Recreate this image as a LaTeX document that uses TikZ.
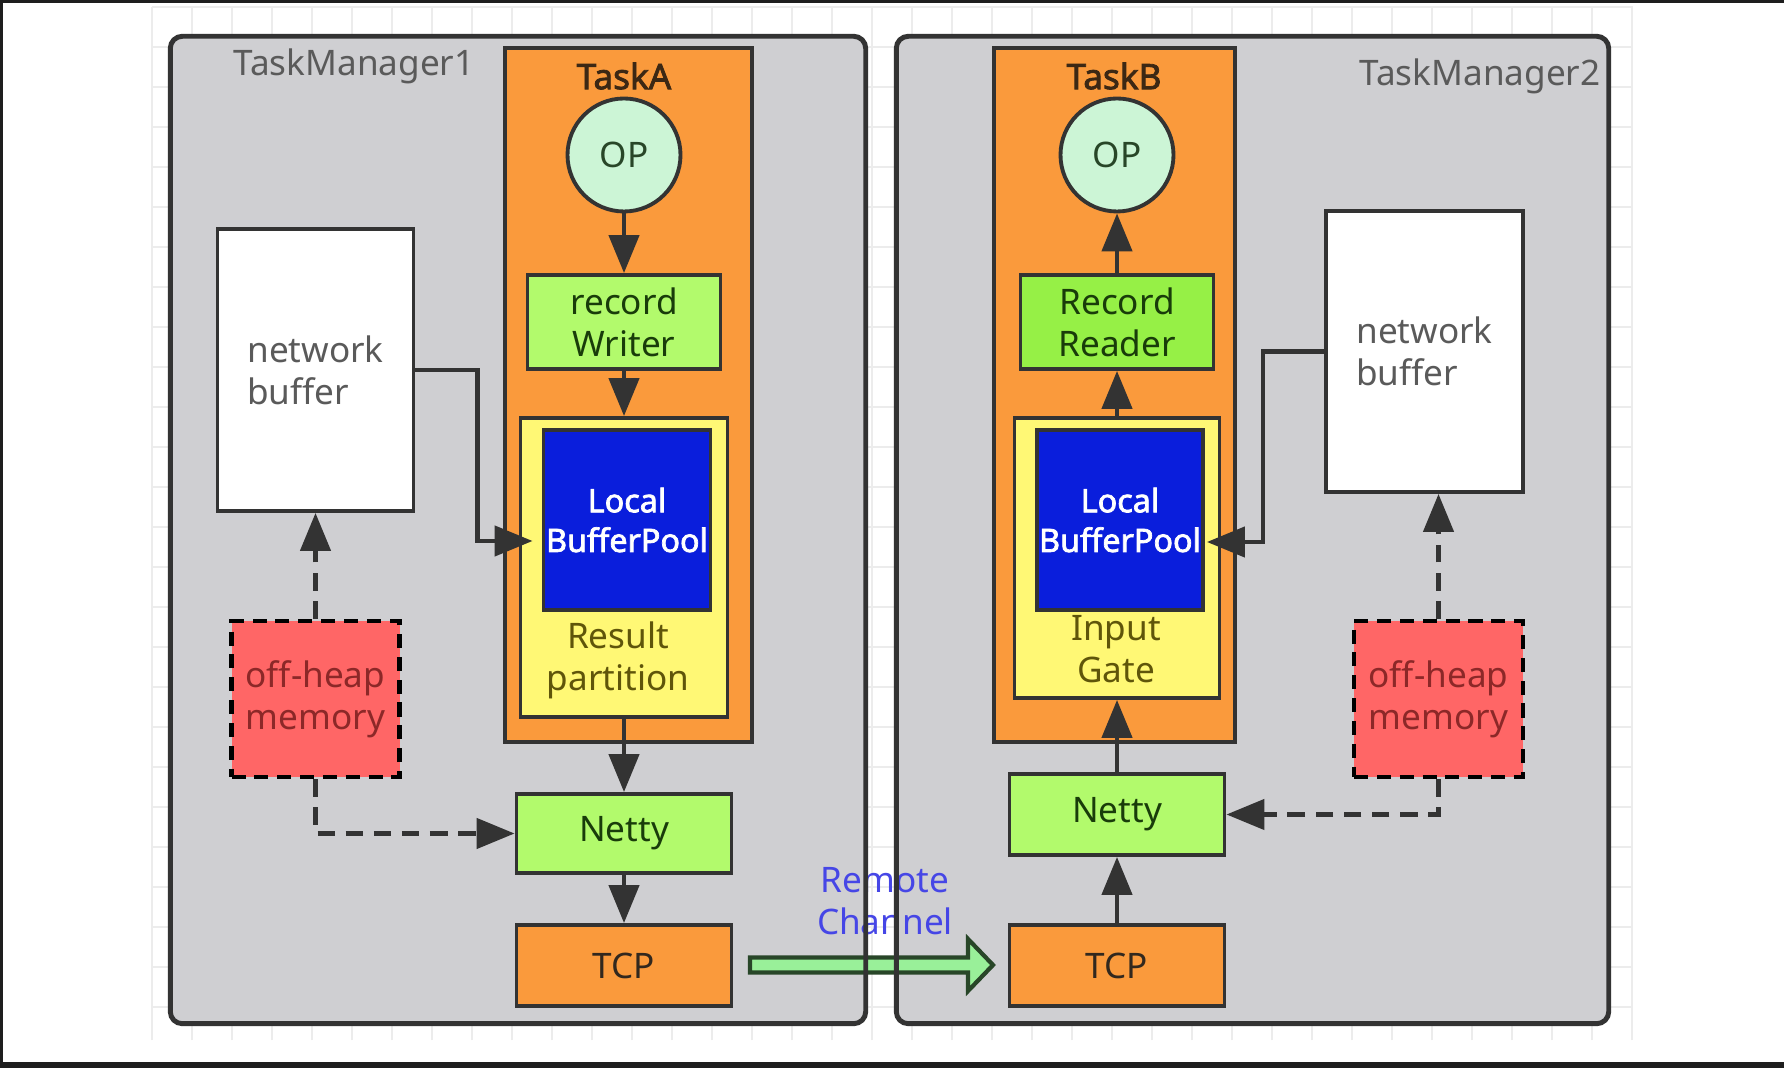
\documentclass[tikz,border=0pt]{standalone}
\usepackage{fontspec}
\setmainfont{Noto Sans}[AutoFakeBold=2.2]
\usetikzlibrary{arrows.meta}

\definecolor{tmgray}{RGB}{207,207,210}
\definecolor{taskorange}{RGB}{250,154,60}
\definecolor{opmint}{RGB}{204,245,214}
\definecolor{boxgreen}{RGB}{178,250,108}
\definecolor{readergreen}{RGB}{150,240,70}
\definecolor{partyellow}{RGB}{255,248,117}
\definecolor{poolblue}{RGB}{10,30,220}
\definecolor{heapred}{RGB}{255,102,102}
\definecolor{chgreen}{RGB}{153,240,153}
\definecolor{chedge}{RGB}{40,70,40}
\definecolor{edge}{RGB}{51,51,51}
\definecolor{gridline}{RGB}{236,236,236}
\definecolor{labelgray}{RGB}{90,90,90}
\definecolor{darkgreentext}{RGB}{25,60,10}
\definecolor{olivetext}{RGB}{95,85,10}
\definecolor{heaptext}{RGB}{140,40,40}
\definecolor{chblue}{RGB}{70,70,230}
\definecolor{framedark}{RGB}{30,30,30}

\begin{document}
\begin{tikzpicture}[
    tmbox/.style={fill=tmgray, rounded corners=1.2mm, inner sep=0pt},
    tmline/.style={draw=edge, line width=1.4pt, rounded corners=1.2mm},
    block/.style={draw=edge, line width=1.1pt, inner sep=0pt, align=center,
      font=\fontsize{10}{12}\selectfont},
    opnode/.style={circle, draw=edge, line width=1.1pt, fill=opmint, minimum size=1.13cm,
      inner sep=0pt, text=chedge, font=\fontsize{10}{12}\selectfont},
    heap/.style={block, draw=black, fill=heapred, line width=1.3pt,
      dash pattern=on 4pt off 2.5pt, text=heaptext},
    conn/.style={draw=edge, line width=1.3pt, -{Triangle[length=3.8mm,width=3mm]}},
    dconn/.style={conn, dash pattern=on 5pt off 3pt},
    remote/.style={draw=chedge, line width=1.2pt, fill=chgreen, line join=miter}
  ]
  \useasboundingbox (0,0) rectangle (17.84,10.68);
  \fill[white] (0,0) rectangle (17.84,10.68);

  % faint grid of the drawing canvas
  \foreach \gx in {1.52,1.92,...,16.4}
    \draw[gridline, line width=0.6pt] (\gx,0.28) -- (\gx,10.61);
  \foreach \gy in {10.61,10.21,...,0.5}
    \draw[gridline, line width=0.6pt] (1.52,\gy) -- (16.33,\gy);

  % screen frame
  \fill[framedark] (0,0) rectangle (17.84,0.06);
  \fill[framedark] (0,10.65) rectangle (17.84,10.68);
  \fill[framedark] (0,0) rectangle (0.03,10.68);

  % task managers
  \node[tmbox, minimum width=6.94cm, minimum height=9.86cm] (tm1) at (5.18,5.38) {};
  \node[tmbox, minimum width=7.11cm, minimum height=9.86cm] (tm2) at (12.525,5.38) {};

  % remote channel between the TCP boxes
  \coordinate (rcS) at (7.50,1.03);
  \coordinate (rcE) at (9.93,1.03);
  \draw[remote] ([yshift=0.75mm]rcS) -- ([xshift=-2.5mm,yshift=0.75mm]rcE)
    -- ([xshift=-2.5mm,yshift=2.6mm]rcE) -- (rcE)
    -- ([xshift=-2.5mm,yshift=-2.6mm]rcE) -- ([xshift=-2.5mm,yshift=-0.75mm]rcE)
    -- ([yshift=-0.75mm]rcS) -- cycle;
  \node[text=chblue, align=center, font=\fontsize{10}{12}\selectfont] (rcLbl) at (8.85,1.67) {Remote\\Channel};

  \draw[tmline] (tm1.south west) rectangle (tm1.north east);
  \draw[tmline] (tm2.south west) rectangle (tm2.north east);
  \node[text=labelgray, font=\fontsize{10}{12}\selectfont] (tm1Lbl) at (3.54,10.02) {TaskManager1};
  \node[text=labelgray, font=\fontsize{10}{12}\selectfont] (tm2Lbl) at (14.80,9.92) {TaskManager2};

  % TaskA
  \node[block, fill=taskorange, minimum width=2.47cm, minimum height=6.94cm] (taskA) at (6.285,6.73) {};
  \node[text={rgb,255:red,60;green,40;blue,20}, font=\fontsize{10}{12}\selectfont\bfseries] (taskALbl) at (6.24,9.92) {TaskA};
  \node[opnode] (opA) at (6.24,9.13) {OP};
  \node[block, fill=boxgreen, text=darkgreentext, minimum width=1.93cm, minimum height=0.94cm] (wrA) at (6.24,7.46) {record\\Writer};
  \node[block, fill=partyellow, minimum width=2.07cm, minimum height=2.99cm] (rpA) at (6.24,5.005) {};
  \node[block, fill=poolblue, text=white, minimum width=1.67cm, minimum height=1.80cm,
    font=\fontsize{9.2}{11.3}\selectfont\bfseries] (bpA) at (6.27,5.48) {Local\\BufferPool};
  \node[text=olivetext, align=center, font=\fontsize{10}{12}\selectfont] (rpALbl) at (6.18,4.08) {Result\\partition};

  % TaskB
  \node[block, fill=taskorange, minimum width=2.41cm, minimum height=6.94cm] (taskB) at (11.145,6.73) {};
  \node[text={rgb,255:red,60;green,40;blue,20}, font=\fontsize{10}{12}\selectfont\bfseries] (taskBLbl) at (11.14,9.92) {TaskB};
  \node[opnode] (opB) at (11.17,9.13) {OP};
  \node[block, fill=readergreen, text=darkgreentext, minimum width=1.93cm, minimum height=0.94cm] (rdB) at (11.17,7.46) {Record\\Reader};
  \node[block, fill=partyellow, minimum width=2.05cm, minimum height=2.80cm] (igB) at (11.17,5.10) {};
  \node[block, fill=poolblue, text=white, minimum width=1.66cm, minimum height=1.80cm,
    font=\fontsize{9.2}{11.3}\selectfont\bfseries] (bpB) at (11.20,5.48) {Local\\BufferPool};
  \node[text=olivetext, align=center, font=\fontsize{10}{12}\selectfont] (igBLbl) at (11.16,4.19) {Input\\Gate};

  % network buffers and off-heap memory
  \node[block, fill=white, text=labelgray, align=left, minimum width=1.96cm, minimum height=2.82cm] (nbA) at (3.155,6.98) {network\\buffer};
  \node[block, fill=white, text=labelgray, align=left, minimum width=1.97cm, minimum height=2.81cm] (nbB) at (14.245,7.165) {network\\buffer};
  \node[heap, minimum width=1.68cm, minimum height=1.56cm] (ohA) at (3.155,3.69) {off-heap\\memory};
  \node[heap, minimum width=1.69cm, minimum height=1.56cm] (ohB) at (14.385,3.69) {off-heap\\memory};

  % netty and tcp
  \node[block, fill=boxgreen, text=darkgreentext, minimum width=2.15cm, minimum height=0.79cm] (ntA) at (6.24,2.345) {Netty};
  \node[block, fill=taskorange, text={rgb,255:red,50;green,40;blue,30}, minimum width=2.15cm, minimum height=0.81cm] (tcpA) at (6.24,1.025) {TCP};
  \node[block, fill=boxgreen, text=darkgreentext, minimum width=2.15cm, minimum height=0.81cm] (ntB) at (11.17,2.535) {Netty};
  \node[block, fill=taskorange, text={rgb,255:red,50;green,40;blue,30}, minimum width=2.15cm, minimum height=0.81cm] (tcpB) at (11.17,1.025) {TCP};

  % sending side
  \draw[conn] (opA) -- (wrA);
  \draw[conn] (wrA) -- (rpA);
  \draw[conn] (rpA) -- (ntA);
  \draw[conn] (ntA) -- (tcpA);
  \draw[conn] (nbA.east) -- ++(0.62,0) |- ([xshift=-0.9mm,yshift=-2.1mm]bpA.west);
  \draw[dconn] (ohA) -- (nbA);
  \draw[dconn] (ohA.south) |- (ntA.west);

  % receiving side
  \draw[conn] (rdB) -- (opB);
  \draw[conn] (igB) -- (rdB);
  \draw[conn] (ntB) -- (igB);
  \draw[conn] (tcpB) -- (ntB);
  \draw[conn] (nbB.west) -- ++(-0.61,0) |- ([xshift=0.2mm,yshift=-2.2mm]bpB.east);
  \draw[dconn] (ohB.north) -- (ohB.north |- nbB.south);
  \draw[dconn] (ohB.south) |- (ntB.east);
\end{tikzpicture}
\end{document}
